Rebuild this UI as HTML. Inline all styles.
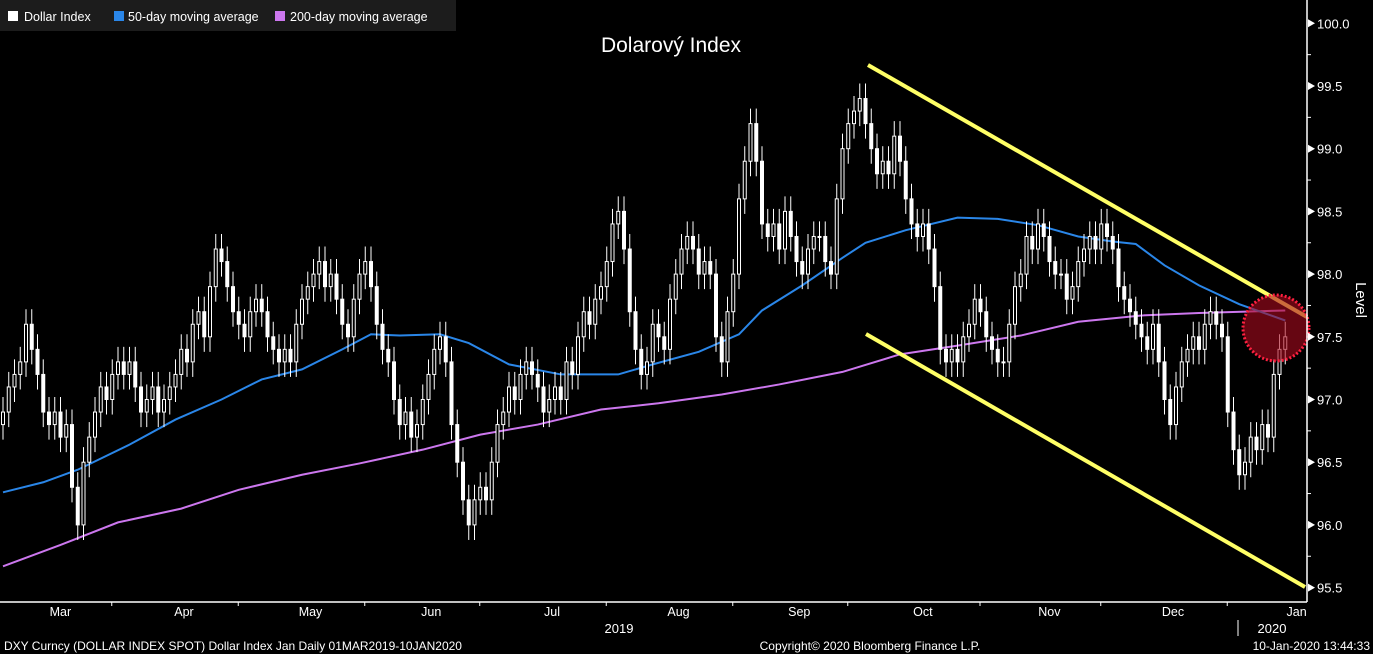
<!DOCTYPE html>
<html><head><meta charset="utf-8"><style>
body{margin:0;background:#000;width:1373px;height:654px;overflow:hidden;font-family:"Liberation Sans",sans-serif;}
svg{display:block}
text{font-family:"Liberation Sans",sans-serif;}
</style></head><body>
<svg id="chart" width="1373" height="654" viewBox="0 0 1373 654">
<rect x="0" y="0" width="1373" height="654" fill="#000"/>
<g id="ma200g"></g>
<g id="ma50g"></g>
<g id="candles"></g>
<line x1="868" y1="65" x2="1307" y2="317" stroke="#ffff66" stroke-width="4"/>
<line x1="866" y1="334" x2="1305" y2="587" stroke="#ffff66" stroke-width="4"/>
<circle cx="1276" cy="328" r="33" fill="rgba(170,10,30,0.6)" stroke="#ff2040" stroke-width="3" stroke-dasharray="2 2"/>
<line x1="1307" y1="0" x2="1307" y2="602" stroke="#fff" stroke-width="1.5"/>
<line x1="0" y1="602" x2="1307" y2="602" stroke="#fff" stroke-width="1.5"/>
<g id="yaxis"></g>
<g id="xaxis"></g>
<text x="1356" y="300" fill="#fff" font-size="15" transform="rotate(90 1356 300)" text-anchor="middle">Level</text>
<text x="619" y="633" fill="#fff" font-size="13" text-anchor="middle">2019</text>
<line x1="1238" y1="620" x2="1238" y2="636" stroke="#fff"/>
<text x="1272" y="633" fill="#fff" font-size="13" text-anchor="middle">2020</text>
<text x="671" y="52" fill="#fff" font-size="21" text-anchor="middle">Dolarový Index</text>
<g>
<rect x="0" y="0" width="456" height="31" fill="#1c1c1c"/>
<rect x="8" y="11" width="10" height="10" fill="#fff"/>
<text x="24" y="21" fill="#fff" font-size="12.5">Dollar Index</text>
<rect x="114" y="11" width="10" height="10" fill="#2a86e8"/>
<text x="128" y="21" fill="#fff" font-size="12.5">50-day moving average</text>
<rect x="275" y="11" width="10" height="10" fill="#cc77ee"/>
<text x="290" y="21" fill="#fff" font-size="12.5">200-day moving average</text>
</g>
<text x="4" y="650" fill="#fff" font-size="12">DXY Curncy (DOLLAR INDEX SPOT) Dollar Index Jan  Daily 01MAR2019-10JAN2020</text>
<text x="870" y="650" fill="#fff" font-size="12" text-anchor="middle">Copyright© 2020 Bloomberg Finance L.P.</text>
<text x="1370" y="650" fill="#fff" font-size="12" text-anchor="end">10-Jan-2020 13:44:33</text>
</svg>
<script>
const closes=[96.9,97.1,97.2,97.3,97.6,97.4,97.2,96.9,96.8,96.9,
96.7,96.8,96.3,96.0,96.5,96.7,96.9,97.1,97.0,97.2,
97.3,97.2,97.3,97.1,96.9,97.0,97.1,96.9,97.0,97.1,
97.2,97.4,97.3,97.6,97.7,97.5,97.9,98.2,98.1,97.9,
97.7,97.6,97.5,97.7,97.8,97.7,97.5,97.4,97.3,97.4,
97.3,97.6,97.8,97.9,98.0,98.1,97.9,98.0,97.8,97.6,
97.5,97.8,98.0,98.1,97.9,97.6,97.4,97.3,97.0,96.8,
96.9,96.7,96.8,97.0,97.2,97.4,97.5,97.3,96.8,96.5,
96.2,96.0,96.2,96.3,96.2,96.5,96.8,96.9,97.1,97.0,
97.2,97.3,97.2,97.1,96.9,97.0,97.1,97.0,97.3,97.2,
97.5,97.7,97.6,97.8,97.9,98.1,98.4,98.5,98.2,97.7,
97.4,97.2,97.3,97.6,97.5,97.4,97.8,98.0,98.2,98.3,
98.2,98.0,98.1,98.0,97.5,97.3,97.7,98.0,98.6,98.9,
99.2,98.9,98.4,98.3,98.4,98.2,98.5,98.3,98.1,98.0,
98.2,98.3,98.3,98.1,98.0,98.6,99.0,99.2,99.3,99.4,
99.2,99.0,98.8,98.9,98.8,99.1,98.9,98.6,98.4,98.3,
98.4,98.2,97.9,97.4,97.3,97.4,97.3,97.5,97.6,97.8,
97.7,97.5,97.4,97.3,97.3,97.6,97.9,98.0,98.3,98.2,
98.4,98.3,98.1,98.0,98.0,97.8,97.9,98.1,98.2,98.3,
98.2,98.4,98.3,98.2,97.9,97.8,97.7,97.6,97.5,97.4,
97.6,97.3,97.0,96.8,97.1,97.3,97.4,97.5,97.4,97.6,
97.7,97.6,97.5,96.9,96.6,96.4,96.5,96.7,96.6,96.8,
96.7,97.2,97.4,97.5];
const ma50Days=[0,7,13,22,30,38,45,52,59,64,69,76,81,88,97,107,113,121,128,132,139,146,150,157,166,173,180,187,193,197,202,208,215,223];
const ma50Vals=[96.26,96.34,96.44,96.64,96.84,97.0,97.16,97.24,97.4,97.52,97.51,97.52,97.45,97.28,97.2,97.2,97.28,97.38,97.52,97.71,97.91,98.13,98.25,98.35,98.45,98.44,98.39,98.3,98.26,98.24,98.07,97.91,97.76,97.63];
const ma200Days=[0,10,20,31,41,52,62,73,83,93,104,114,125,135,146,156,166,177,187,198,208,223];
const ma200Vals=[95.67,95.84,96.02,96.13,96.28,96.4,96.49,96.6,96.72,96.8,96.92,96.97,97.04,97.12,97.22,97.36,97.43,97.51,97.62,97.67,97.69,97.71];
const yTicks=[95.5,96.0,96.5,97.0,97.5,98.0,98.5,99.0,99.5,100.0];
const months=["Mar","Apr","May","Jun","Jul","Aug","Sep","Oct","Nov","Dec","Jan"];
const monthStart=[0,21,43,65,85,107,129,149,172,193,215];
const NS="http://www.w3.org/2000/svg";
const X=i=>3+i*5.75;
const Y=v=>23.3+(100-v)*125.4;
function mk(t,a,p){const e=document.createElementNS(NS,t);for(const k in a)e.setAttribute(k,a[k]);p.appendChild(e);return e;}
const cg=document.getElementById('candles');
closes.forEach((c,i)=>{
  const o=i?closes[i-1]:c-0.1;
  const hi=Math.max(o,c)+0.12, lo=Math.min(o,c)-0.12, up=c>=o;
  const w=mk('line',{x1:X(i),x2:X(i),y1:Y(hi),y2:Y(lo),stroke:'#fff','stroke-width':1},cg);
  
  
  const top=Y(Math.max(o,c)), h=Math.max(1,Y(Math.min(o,c))-top);
  const b=mk('rect',{x:X(i)-1.5,y:top,width:3,height:h,fill:up?'#000':'#fff',stroke:'#fff','stroke-width':1},cg);
  
  
});
function line(days,vals,col,g){
  const p=mk('polyline',{points:days.map((d,i)=>X(d)+','+Y(vals[i])).join(' '),fill:'none',stroke:col,'stroke-width':2},document.getElementById(g));
  return p;
}
const l2=line(ma200Days,ma200Vals,'#cc77ee','ma200g');


const l1=line(ma50Days,ma50Vals,'#2a86e8','ma50g');


const ya=document.getElementById('yaxis');
yTicks.forEach(v=>{
  const y=Y(v);
  const t=mk('polygon',{points:`1308,${y-4} 1315,${y} 1308,${y+4}`,fill:'#fff'},ya);
  
  
  const m=mk('line',{x1:1307,x2:1311,y1:Y(v+0.25),y2:Y(v+0.25),stroke:'#fff'},ya);
  
  
  const tx=mk('text',{x:1317,y:y+5,fill:'#fff','font-size':13},ya);
  tx.textContent=v.toFixed(1);
  
  
});
const xa=document.getElementById('xaxis');
months.forEach((m,i)=>{
  const nx=i<months.length-1?monthStart[i+1]:monthStart[i]+21;
  const cx=X((monthStart[i]+nx)/2)-3;
  const tx=mk('text',{x:cx,y:616,fill:'#fff','font-size':12.5,'text-anchor':'middle'},xa);
  tx.textContent=m;
  
  
  if(i<months.length-1){
    const tk=mk('line',{x1:X(nx)-12,x2:X(nx)-12,y1:602,y2:606,stroke:'#fff'},xa);
    
    
  }
});
</script>
</body></html>
